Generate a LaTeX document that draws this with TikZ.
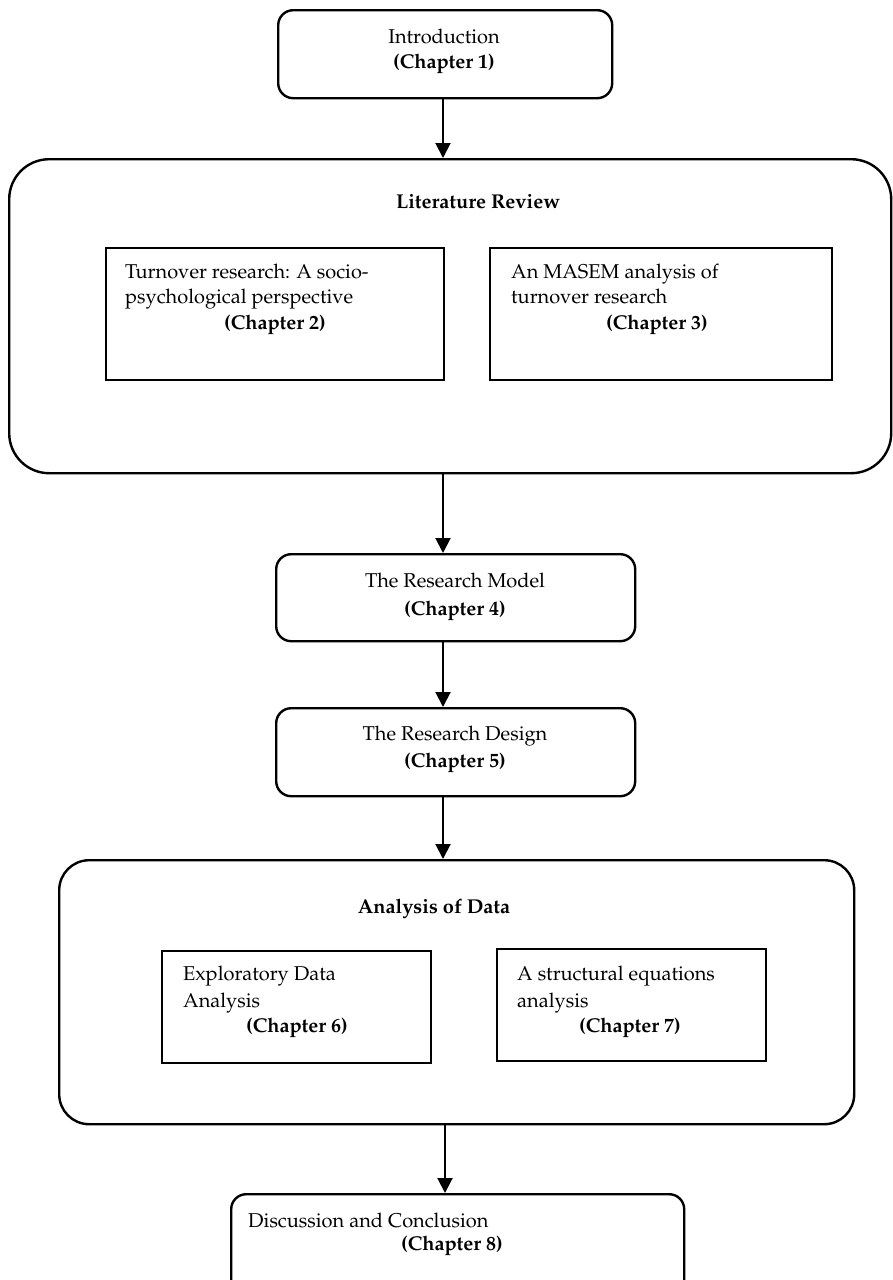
\documentclass[tikz,border=0pt]{standalone}
\usepackage[T1]{fontenc}
\usepackage{mathpazo}
\usetikzlibrary{arrows.meta}

\tikzset{
  x=1pt, y=-1pt,
  roundbox/.style={draw, line width=2.4pt, rounded corners=15pt, inner sep=0pt,
                   anchor=north west},
  groupbox/.style={roundbox, rounded corners=40pt},
  plainbox/.style={draw, line width=2pt, inner sep=0pt, anchor=north west},
  txt/.style={font=\fontsize{20}{25}\selectfont, inner sep=0pt},
  hd/.style={txt, font=\fontsize{20}{25}\selectfont\bfseries},
  flow/.style={line width=2pt, -{Triangle[width=15pt,length=15pt]}},
}

\begin{document}
\begin{tikzpicture}
\useasboundingbox (0,0) rectangle (892,1280);

% boxes
\node[roundbox, minimum width=334pt, minimum height=88pt] (intro) at (277,9) {};
\node[groupbox, minimum width=882pt, minimum height=314pt] (lit) at (8,158) {};
\node[plainbox, minimum width=338pt, minimum height=132pt] (ch2) at (105,247) {};
\node[plainbox, minimum width=342pt, minimum height=132pt] (ch3) at (489,247) {};
\node[roundbox, minimum width=359pt, minimum height=87pt] (model) at (275,553) {};
\node[roundbox, minimum width=359pt, minimum height=88pt] (design) at (275,707) {};
\node[roundbox, rounded corners=30pt, minimum width=795pt, minimum height=264pt] (ana) at (58,859) {};
\node[plainbox, minimum width=269pt, minimum height=112pt] (ch6) at (161,950) {};
\node[plainbox, minimum width=269pt, minimum height=112pt] (ch7) at (496,948) {};
\node[roundbox, minimum width=453pt, minimum height=110pt] (disc) at (230,1193) {};

% texts
\node[txt, anchor=base] (t1a) at (444,43) {Introduction};
\node[hd, anchor=base] (t1b) at (444,68) {(Chapter 1)};

\node[hd, anchor=base] (tlit) at (478,208) {Literature Review};
\node[txt, anchor=base west] (t2a) at (125,278) {Turnover research: A socio-};
\node[txt, anchor=base west] (t2b) at (125,303) {psychological perspective};
\node[hd, anchor=base] (t2c) at (275,329) {(Chapter 2)};
\node[txt, anchor=base west] (t3a) at (511,278) {An MASEM analysis of};
\node[txt, anchor=base west] (t3b) at (511,303) {turnover research};
\node[hd, anchor=base] (t3c) at (657,329) {(Chapter 3)};

\node[txt, anchor=base] (t4a) at (455,587) {The Research Model};
\node[hd, anchor=base] (t4b) at (455,615) {(Chapter 4)};
\node[txt, anchor=base] (t5a) at (455,740) {The Research Design};
\node[hd, anchor=base] (t5b) at (455,767) {(Chapter 5)};

\node[hd, anchor=base] (tana) at (434,913) {Analysis of Data};
\node[txt, anchor=base west] (t6a) at (183,980) {Exploratory Data};
\node[txt, anchor=base west] (t6b) at (183,1007) {Analysis};
\node[hd, anchor=base] (t6c) at (297,1032) {(Chapter 6)};
\node[txt, anchor=base west] (t7a) at (517,980) {A structural equations};
\node[txt, anchor=base west] (t7b) at (517,1007) {analysis};
\node[hd, anchor=base] (t7c) at (630,1032) {(Chapter 7)};

\node[txt, anchor=base west] (t8a) at (248,1227) {Discussion and Conclusion};
\node[hd, anchor=base] (t8b) at (452,1250) {(Chapter 8)};

% connectors
\coordinate (ax) at (443,0);
\coordinate (bx) at (445,0);
\draw[flow] (intro.south -| ax) -- (lit.north -| ax);
\draw[flow] (lit.south -| ax) -- (model.north -| ax);
\draw[flow] (model.south -| ax) -- (design.north -| ax);
\draw[flow] (design.south -| ax) -- (ana.north -| ax);
\draw[flow] (ana.south -| bx) -- (disc.north -| bx);
\end{tikzpicture}
\end{document}
